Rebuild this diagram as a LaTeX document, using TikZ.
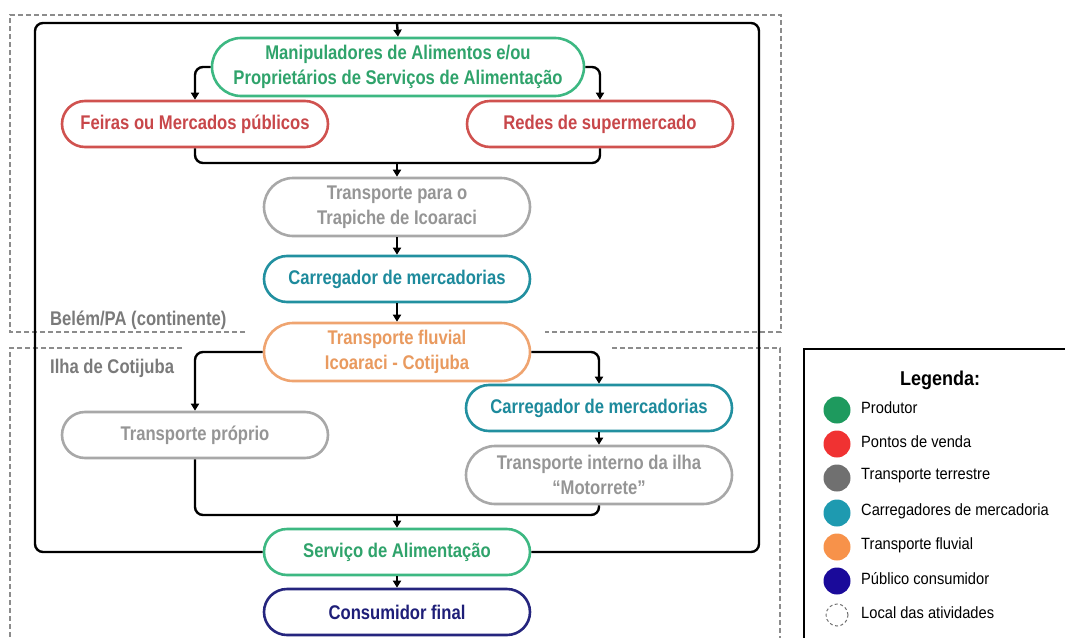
\documentclass[tikz,border=0pt]{standalone}
\usepackage{fontspec}
\setmainfont[FakeStretch=0.84]{Liberation Sans}
\newfontfamily\legfont[FakeStretch=0.9]{Liberation Sans}
\usetikzlibrary{arrows.meta}
\definecolor{grS}{HTML}{3DB882}
\definecolor{grT}{HTML}{2FA36B}
\definecolor{rdS}{HTML}{D0524F}
\definecolor{rdT}{HTML}{C8474A}
\definecolor{gyS}{HTML}{A8A8A8}
\definecolor{gyT}{HTML}{959595}
\definecolor{tlS}{HTML}{2290A0}
\definecolor{tlT}{HTML}{1D8A9C}
\definecolor{orS}{HTML}{EFA470}
\definecolor{orT}{HTML}{E99A5F}
\definecolor{nvS}{HTML}{25257E}
\definecolor{nvT}{HTML}{1E1E78}
\definecolor{dashgray}{HTML}{8C8C8C}
\definecolor{lblgray}{HTML}{7A7A7A}
\definecolor{lgGreen}{HTML}{1E9A5E}
\definecolor{lgRed}{HTML}{F03232}
\definecolor{lgGray}{HTML}{707070}
\definecolor{lgTeal}{HTML}{1E9AB0}
\definecolor{lgOrange}{HTML}{F7924A}
\definecolor{lgNavy}{HTML}{1A0A9A}
\begin{document}
\begin{tikzpicture}[x=1pt,y=-1pt,
  box/.style={draw, fill=white, line width=2.6pt, minimum width=266pt, minimum height=46pt,
    rounded corners=23pt, inner sep=0pt, align=center,
    font=\fontsize{19.8}{25}\selectfont\bfseries},
  tall/.style={minimum height=58pt, rounded corners=29pt},
  gbox/.style={box, draw=grS, text=grT},
  rbox/.style={box, draw=rdS, text=rdT},
  ybox/.style={box, draw=gyS, text=gyT},
  tbox/.style={box, draw=tlS, text=tlT},
  obox/.style={box, draw=orS, text=orT},
  nbox/.style={box, draw=nvS, text=nvT},
  conn/.style={line width=2.4pt, rounded corners=8pt},
  arr/.style={conn, -{Triangle[width=8pt,length=7pt]}},
  dbox/.style={draw=dashgray, line width=1.3pt, dash pattern=on 5pt off 3pt},
  lbl/.style={text=lblgray, anchor=west, inner sep=0pt, font=\fontsize{19.8}{24}\selectfont\bfseries},
  lgdot/.style={circle, minimum size=27pt, inner sep=0pt},
  lgtxt/.style={anchor=west, inner sep=0pt, font=\legfont\fontsize{16.3}{19}\selectfont},
]
\useasboundingbox (0,0) rectangle (1065,637);
\clip (0,0) rectangle (1065,637);

% region boxes
\draw[dbox] (245,332) -- (10,332) -- (10,15) -- (781,15) -- (781,332) -- (545,332);
\draw[dbox] (182,348) -- (10,348) -- (10,645);
\draw[dbox] (612,348) -- (780,348) -- (780,645);
\node[lbl] (bel) at (50,320) {Belém/PA (continente)};
\node[lbl] (ilha) at (50,368) {Ilha de Cotijuba};

% nodes
\node[gbox, tall, minimum width=372pt, rounded corners=29pt] (man) at (398,67) {Manipuladores de Alimentos e/ou\\Proprietários de Serviços de Alimentação};
\node[rbox] (fei) at (195,124) {Feiras ou Mercados públicos};
\node[rbox] (red) at (600,124) {Redes de supermercado};
\node[ybox, tall] (tpt) at (397,207) {Transporte para o\\Trapiche de Icoaraci};
\node[tbox] (car1) at (397,279) {Carregador de mercadorias};
\node[obox, tall] (flu) at (397,352) {Transporte fluvial\\Icoaraci - Cotijuba};
\node[tbox] (car2) at (599,408) {Carregador de mercadorias};
\node[ybox] (pro) at (195,435) {Transporte próprio};
\node[ybox, tall] (mot) at (599,475) {Transporte interno da ilha\\“Motorrete”};
\node[gbox] (srv) at (397,552) {Serviço de Alimentação};
\node[nbox] (con) at (397,612) {Consumidor final};

% connectors
\coordinate (top) at (397,23);
\coordinate (j1) at (397,163);
\coordinate (j2) at (397,515);
\draw[conn] (srv.west) -| (35,23) -- (top);
\draw[conn] (srv.east) -| (759,23) -- (top);
\draw[arr] (top) -- (man.north);
\draw[arr] (man.west) -| (fei.north);
\draw[arr] (man.east) -| (red.north);
\draw[conn] (fei.south) |- (j1);
\draw[conn] (red.south) |- (j1);
\draw[arr] (j1) -- (tpt.north);
\draw[arr] (tpt.south) -- (car1.north);
\draw[arr] (car1.south) -- (flu.north);
\draw[arr] (flu.west) -| (pro.north);
\draw[arr] (flu.east) -| (car2.north);
\draw[arr] (car2.south) -- (mot.north);
\draw[conn] (pro.south) |- (j2);
\draw[conn] (mot.south) |- (j2);
\draw[arr] (j2) -- (srv.north);
\draw[arr] (srv.south) -- (con.north);

% legend
\draw[line width=1.5pt] (804,349) rectangle (1080,660);
\node[font=\legfont\fontsize{20}{24}\selectfont\bfseries] (lgt) at (940,380) {Legenda:};
\node[lgdot, fill=lgGreen] (c1) at (837,410) {};
\node[lgtxt] (t1) at (861,408) {Produtor};
\node[lgdot, fill=lgRed] (c2) at (837,444) {};
\node[lgtxt] (t2) at (861,442) {Pontos de venda};
\node[lgdot, fill=lgGray] (c3) at (837,478) {};
\node[lgtxt] (t3) at (861,476) {Transporte terrestre};
\node[lgdot, fill=lgTeal] (c4) at (837,513) {};
\node[lgtxt] (t4) at (861,511) {Carregadores de mercadoria};
\node[lgdot, fill=lgOrange] (c5) at (837,547) {};
\node[lgtxt] (t5) at (861,545) {Transporte fluvial};
\node[lgdot, fill=lgNavy] (c6) at (837,581) {};
\node[lgtxt] (t6) at (861,579) {Público consumidor};
\node[lgdot, draw=lgGray, line width=1pt, dash pattern=on 3pt off 2.5pt, minimum size=22pt] (c7) at (837,615) {};
\node[lgtxt] (t7) at (861,613) {Local das atividades};
\end{tikzpicture}
\end{document}
